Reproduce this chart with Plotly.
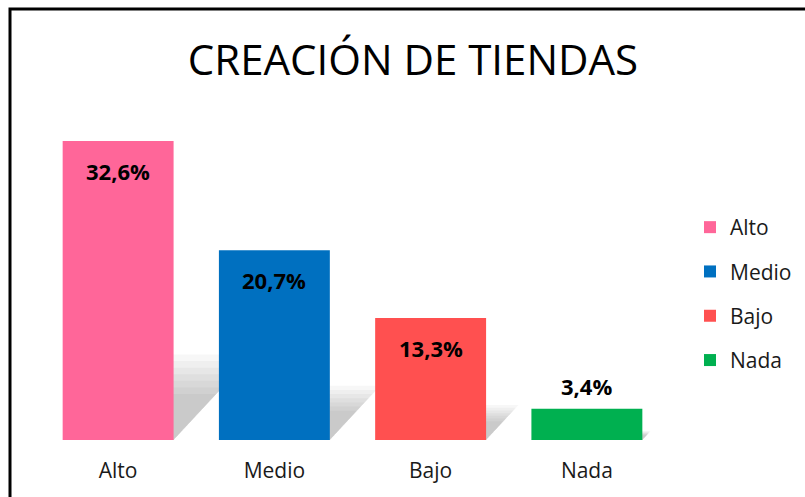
import plotly.graph_objects as go

categories = ["Alto", "Medio", "Bajo", "Nada"]
values = [32.6, 20.7, 13.3, 3.4]
labels = ["32,6%", "20,7%", "13,3%", "3,4%"]
colors = ["#FF6699", "#0070C0", "#FF5050", "#00B050"]

FONT = "Open Sans"
TEXT = "#1a1a1a"
W = 0.71
fig = go.Figure()

shapes = []
# soft shadows behind bars (derived from values), drawn below traces
for i, v in enumerate(values):
    for scale in [1.3, 1.2, 1.1, 1.0, 0.9, 0.8, 0.7]:
        h = 0.22 * v * scale
        dx = 0.012 * v * scale
        x0, x1 = i - W / 2, i + W / 2
        path = f"M{x0},0 L{x1},0 L{x1 + dx},{h} L{x0 + dx},{h} Z"
        shapes.append(dict(type="path", xref="x", yref="y", path=path,
                           fillcolor="rgba(0,0,0,0.032)", line=dict(width=0),
                           layer="below"))

for i, (c, v, col) in enumerate(zip(categories, values, colors)):
    fig.add_trace(go.Bar(
        x=[i], y=[v], name=c, width=W, marker=dict(color=col, line=dict(width=0)),
        legendgroup=c, showlegend=True))

for i, (v, t) in enumerate(zip(values, labels)):
    inside = v > 8
    fig.add_annotation(
        x=i, y=v, text=f"<b>{t}</b>", showarrow=False,
        yshift=-30 if inside else 23,
        font=dict(family=FONT, size=22, color="black"))

shapes.append(dict(type="rect", xref="paper", yref="paper",
                   x0=(10 - 40) / 625, x1=1.5, y0=-0.5, y1=(440 - 9) / 321,
                   line=dict(color="black", width=3), fillcolor="rgba(0,0,0,0)",
                   layer="above"))

fig.update_layout(
    width=805, height=497,
    margin=dict(l=40, r=140, t=119, b=57),
    paper_bgcolor="white", plot_bgcolor="rgba(0,0,0,0)",
    barmode="overlay",
    title=dict(text="CREACIÓN DE TIENDAS", x=0.513, xanchor="center",
               y=1 - 60 / 497, yanchor="middle",
               font=dict(family=FONT, size=42, color="black")),
    xaxis=dict(range=[-0.5, 3.5], tickvals=list(range(len(categories))),
               ticktext=categories, showgrid=False, zeroline=False,
               showline=False, ticks="", ticklabelstandoff=16,
               tickfont=dict(family=FONT, size=21, color=TEXT)),
    yaxis=dict(range=[0, 35], visible=False, showgrid=False, zeroline=False),
    legend=dict(xref="container", yref="container", x=690 / 805, y=1 - 207 / 497,
                xanchor="left", yanchor="top",
                font=dict(family=FONT, size=21, color=TEXT),
                tracegroupgap=14, bgcolor="rgba(0,0,0,0)"),
    shapes=shapes,
)

fig.write_html("out.html", config={"displayModeBar": False},
               post_script="document.body.style.margin='0';")
